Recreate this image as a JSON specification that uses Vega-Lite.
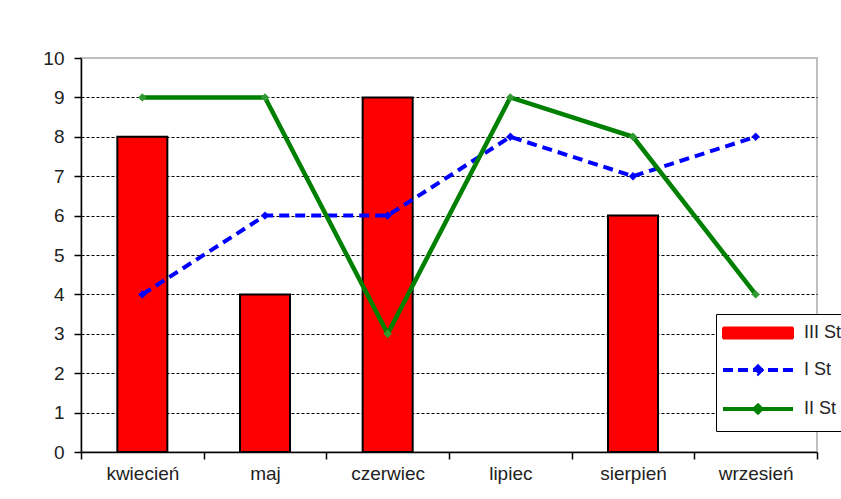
{
  "$schema": "https://vega.github.io/schema/vega-lite/v6.json",
  "width": 736,
  "height": 394,
  "autosize": "none",
  "padding": {"left": 81, "top": 58, "right": 24, "bottom": 47},
  "background": "white",
  "config": {
    "font": "Liberation Sans",
    "view": {"stroke": "#c0c0c0", "strokeWidth": 2},
    "axis": {"labelFont": "Liberation Sans", "labelFontSize": 19, "labelColor": "#222", "domainColor": "#000", "tickColor": "#000", "domainWidth": 1.5, "tickWidth": 1.5, "tickSize": 7}
  },
  "data": {"values": [
    {"month": "kwiecień", "series": "III St", "value": 8},
    {"month": "maj", "series": "III St", "value": 4},
    {"month": "czerwiec", "series": "III St", "value": 9},
    {"month": "sierpień", "series": "III St", "value": 6},
    {"month": "kwiecień", "series": "I St", "value": 4},
    {"month": "maj", "series": "I St", "value": 6},
    {"month": "czerwiec", "series": "I St", "value": 6},
    {"month": "lipiec", "series": "I St", "value": 8},
    {"month": "sierpień", "series": "I St", "value": 7},
    {"month": "wrzesień", "series": "I St", "value": 8},
    {"month": "kwiecień", "series": "II St", "value": 9},
    {"month": "maj", "series": "II St", "value": 9},
    {"month": "czerwiec", "series": "II St", "value": 3},
    {"month": "lipiec", "series": "II St", "value": 9},
    {"month": "sierpień", "series": "II St", "value": 8},
    {"month": "wrzesień", "series": "II St", "value": 4}
  ]},
  "encoding": {
    "x": {
      "field": "month", "type": "nominal",
      "sort": ["kwiecień", "maj", "czerwiec", "lipiec", "sierpień", "wrzesień"],
      "scale": {"domain": ["kwiecień", "maj", "czerwiec", "lipiec", "sierpień", "wrzesień"], "paddingInner": 0, "paddingOuter": 0},
      "axis": {"title": null, "labelAngle": 0, "tickBand": "extent", "labelPadding": 5, "grid": false}
    },
    "y": {
      "field": "value", "type": "quantitative",
      "scale": {"domain": [0, 10], "nice": false},
      "axis": {
        "title": null, "values": [0,1,2,3,4,5,6,7,8,9,10], "labelPadding": 10,
        "grid": true, "gridDash": [3, 2], "gridWidth": 1,
        "gridColor": {"condition": {"test": "datum.value === 10 || datum.value === 0", "value": "transparent"}, "value": "#000"}
      }
    },
    "color": {
      "field": "series", "type": "nominal",
      "scale": {"domain": ["III St", "I St", "II St"], "range": ["#ff0000", "#0000ff", "#008000"]},
      "legend": {
        "title": null, "orient": "none", "legendX": 635, "legendY": 256,
        "padding": 10, "fillColor": "white", "strokeColor": "#000",
        "labelFontSize": 18, "labelColor": "#222", "labelFont": "Liberation Sans",
        "symbolSize": 400, "symbolOffset": 23, "labelOffset": 37, "rowPadding": 15,
        "symbolStrokeColor": "#000",
        "encode": {"symbols": {"update": {
          "shape": {"signal": "datum.value === 'III St' ? 'M-3.5,-0.55H3.5V0.55H-3.5Z' : 'M-3.5,0H3.5M0,-0.35L0.35,0L0,0.35L-0.35,0Z'"},
          "fill": {"signal": "datum.value === 'III St' ? '#ff0000' : datum.value === 'I St' ? '#0000ff' : '#008000'"},
          "stroke": {"signal": "datum.value === 'III St' ? '#000000' : datum.value === 'I St' ? '#0000ff' : '#008000'"},
          "strokeWidth": {"signal": "datum.value === 'III St' ? 2 : 4"},
          "strokeDash": {"signal": "datum.value === 'I St' ? [10, 5] : [1, 0]"},
          "size": {"value": 400},
          "opacity": {"value": 1},
          "fillOpacity": {"value": 1},
          "strokeOpacity": {"value": 1}
        }}}
      }
    }
  },
  "layer": [
    {
      "transform": [{"filter": "datum.series === 'III St'"}],
      "mark": {"type": "bar", "width": 50, "stroke": "#000", "strokeWidth": 2}
    },
    {
      "transform": [{"filter": "datum.series === 'I St'"}],
      "mark": {"type": "line", "strokeWidth": 4, "strokeDash": [10, 6]}
    },
    {
      "transform": [{"filter": "datum.series === 'I St'"}],
      "mark": {"type": "point", "shape": "diamond", "filled": true, "size": 70, "opacity": 1},
      "encoding": {"color": {"value": "#0000ff"}}
    },
    {
      "transform": [{"filter": "datum.series === 'II St'"}],
      "mark": {"type": "line", "strokeWidth": 4.5}
    },
    {
      "transform": [{"filter": "datum.series === 'II St'"}],
      "mark": {"type": "point", "shape": "diamond", "filled": true, "size": 70, "opacity": 1},
      "encoding": {"color": {"value": "#339933"}}
    }
  ]
}
